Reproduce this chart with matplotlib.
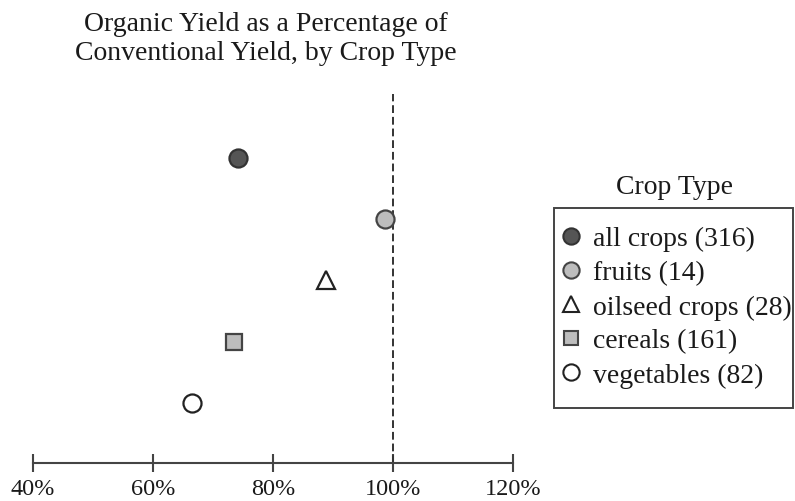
import matplotlib
matplotlib.use("Agg")
import matplotlib.pyplot as plt
from matplotlib.lines import Line2D
from matplotlib.patches import Rectangle

plt.rcParams['font.family'] = ['Liberation Serif', 'DejaVu Serif']

# Data
categories = ["all crops (316)", "fruits (14)", "oilseed crops (28)", "cereals (161)", "vegetables (82)"]
values = [74.2, 98.7, 88.9, 73.5, 66.5]
xticks = [40, 60, 80, 100, 120]
xtick_labels = ["40%", "60%", "80%", "100%", "120%"]

# Styles
markers = ["o", "o", "^", "s", "o"]
faces = ["#555555", "#bdbdbd", "white", "#bdbdbd", "white"]
edges = ["#333333", "#444444", "#222222", "#444444", "#222222"]
sizes = [13, 13, 13, 11.5, 13]

W, H = 795, 502
fig = plt.figure(figsize=(W / 100, H / 100), dpi=100)
ax = fig.add_axes([33 / W, (H - 464) / H, (513 - 33) / W, (464 - 95) / H])

n = len(categories)
ypos = list(range(n - 1, -1, -1))
for i in range(n):
    ax.plot(values[i], ypos[i], marker=markers[i], markersize=sizes[i],
            markerfacecolor=faces[i], markeredgecolor=edges[i], markeredgewidth=1.6,
            linestyle="none", zorder=3)

ax.axvline(100, color="#333333", lw=1.4, dashes=(4, 2), zorder=2)

ax.set_xlim(40, 120)
ax.set_ylim(-0.98, 5.04)
for s in ["left", "top", "right"]:
    ax.spines[s].set_visible(False)
ax.spines["bottom"].set_color("#444444")
ax.spines["bottom"].set_linewidth(1.5)
ax.set_yticks([])
ax.set_xticks(xticks)
ax.set_xticklabels(xtick_labels)
ax.tick_params(axis="x", direction="inout", length=13, width=1.5, color="#444444",
               labelsize=17.5, labelcolor="#1a1a1a", pad=4)

fig.text(266 / W, 1 - 39 / H, "Organic Yield as a Percentage of\nConventional Yield, by Crop Type",
         ha="center", va="center", fontsize=20, color="#1a1a1a", linespacing=1.2)

handles = [Line2D([], [], marker=markers[i], markersize=sizes[i] * 0.9,
                  markerfacecolor=faces[i], markeredgecolor=edges[i], markeredgewidth=1.5,
                  linestyle="none") for i in range(n)]
leg = fig.legend(handles, categories, loc="upper left",
                 bbox_to_anchor=(561 / W, 1 - 227 / H), fontsize=20,
                 frameon=False,
                 handlelength=0.7, handletextpad=0.45, labelspacing=0.31,
                 borderpad=0, borderaxespad=0)
for t in leg.get_texts():
    t.set_color("#1a1a1a")

fig.patches.append(Rectangle((554 / W, 1 - 409 / H), (793 - 554) / W, (409 - 209) / H,
                             transform=fig.transFigure, fill=False,
                             edgecolor="#444444", linewidth=1.4))

fig.text(674 / W, 1 - 187 / H, "Crop Type", ha="center", va="center", fontsize=20, color="#1a1a1a")

fig.savefig("out.png", dpi=100)
